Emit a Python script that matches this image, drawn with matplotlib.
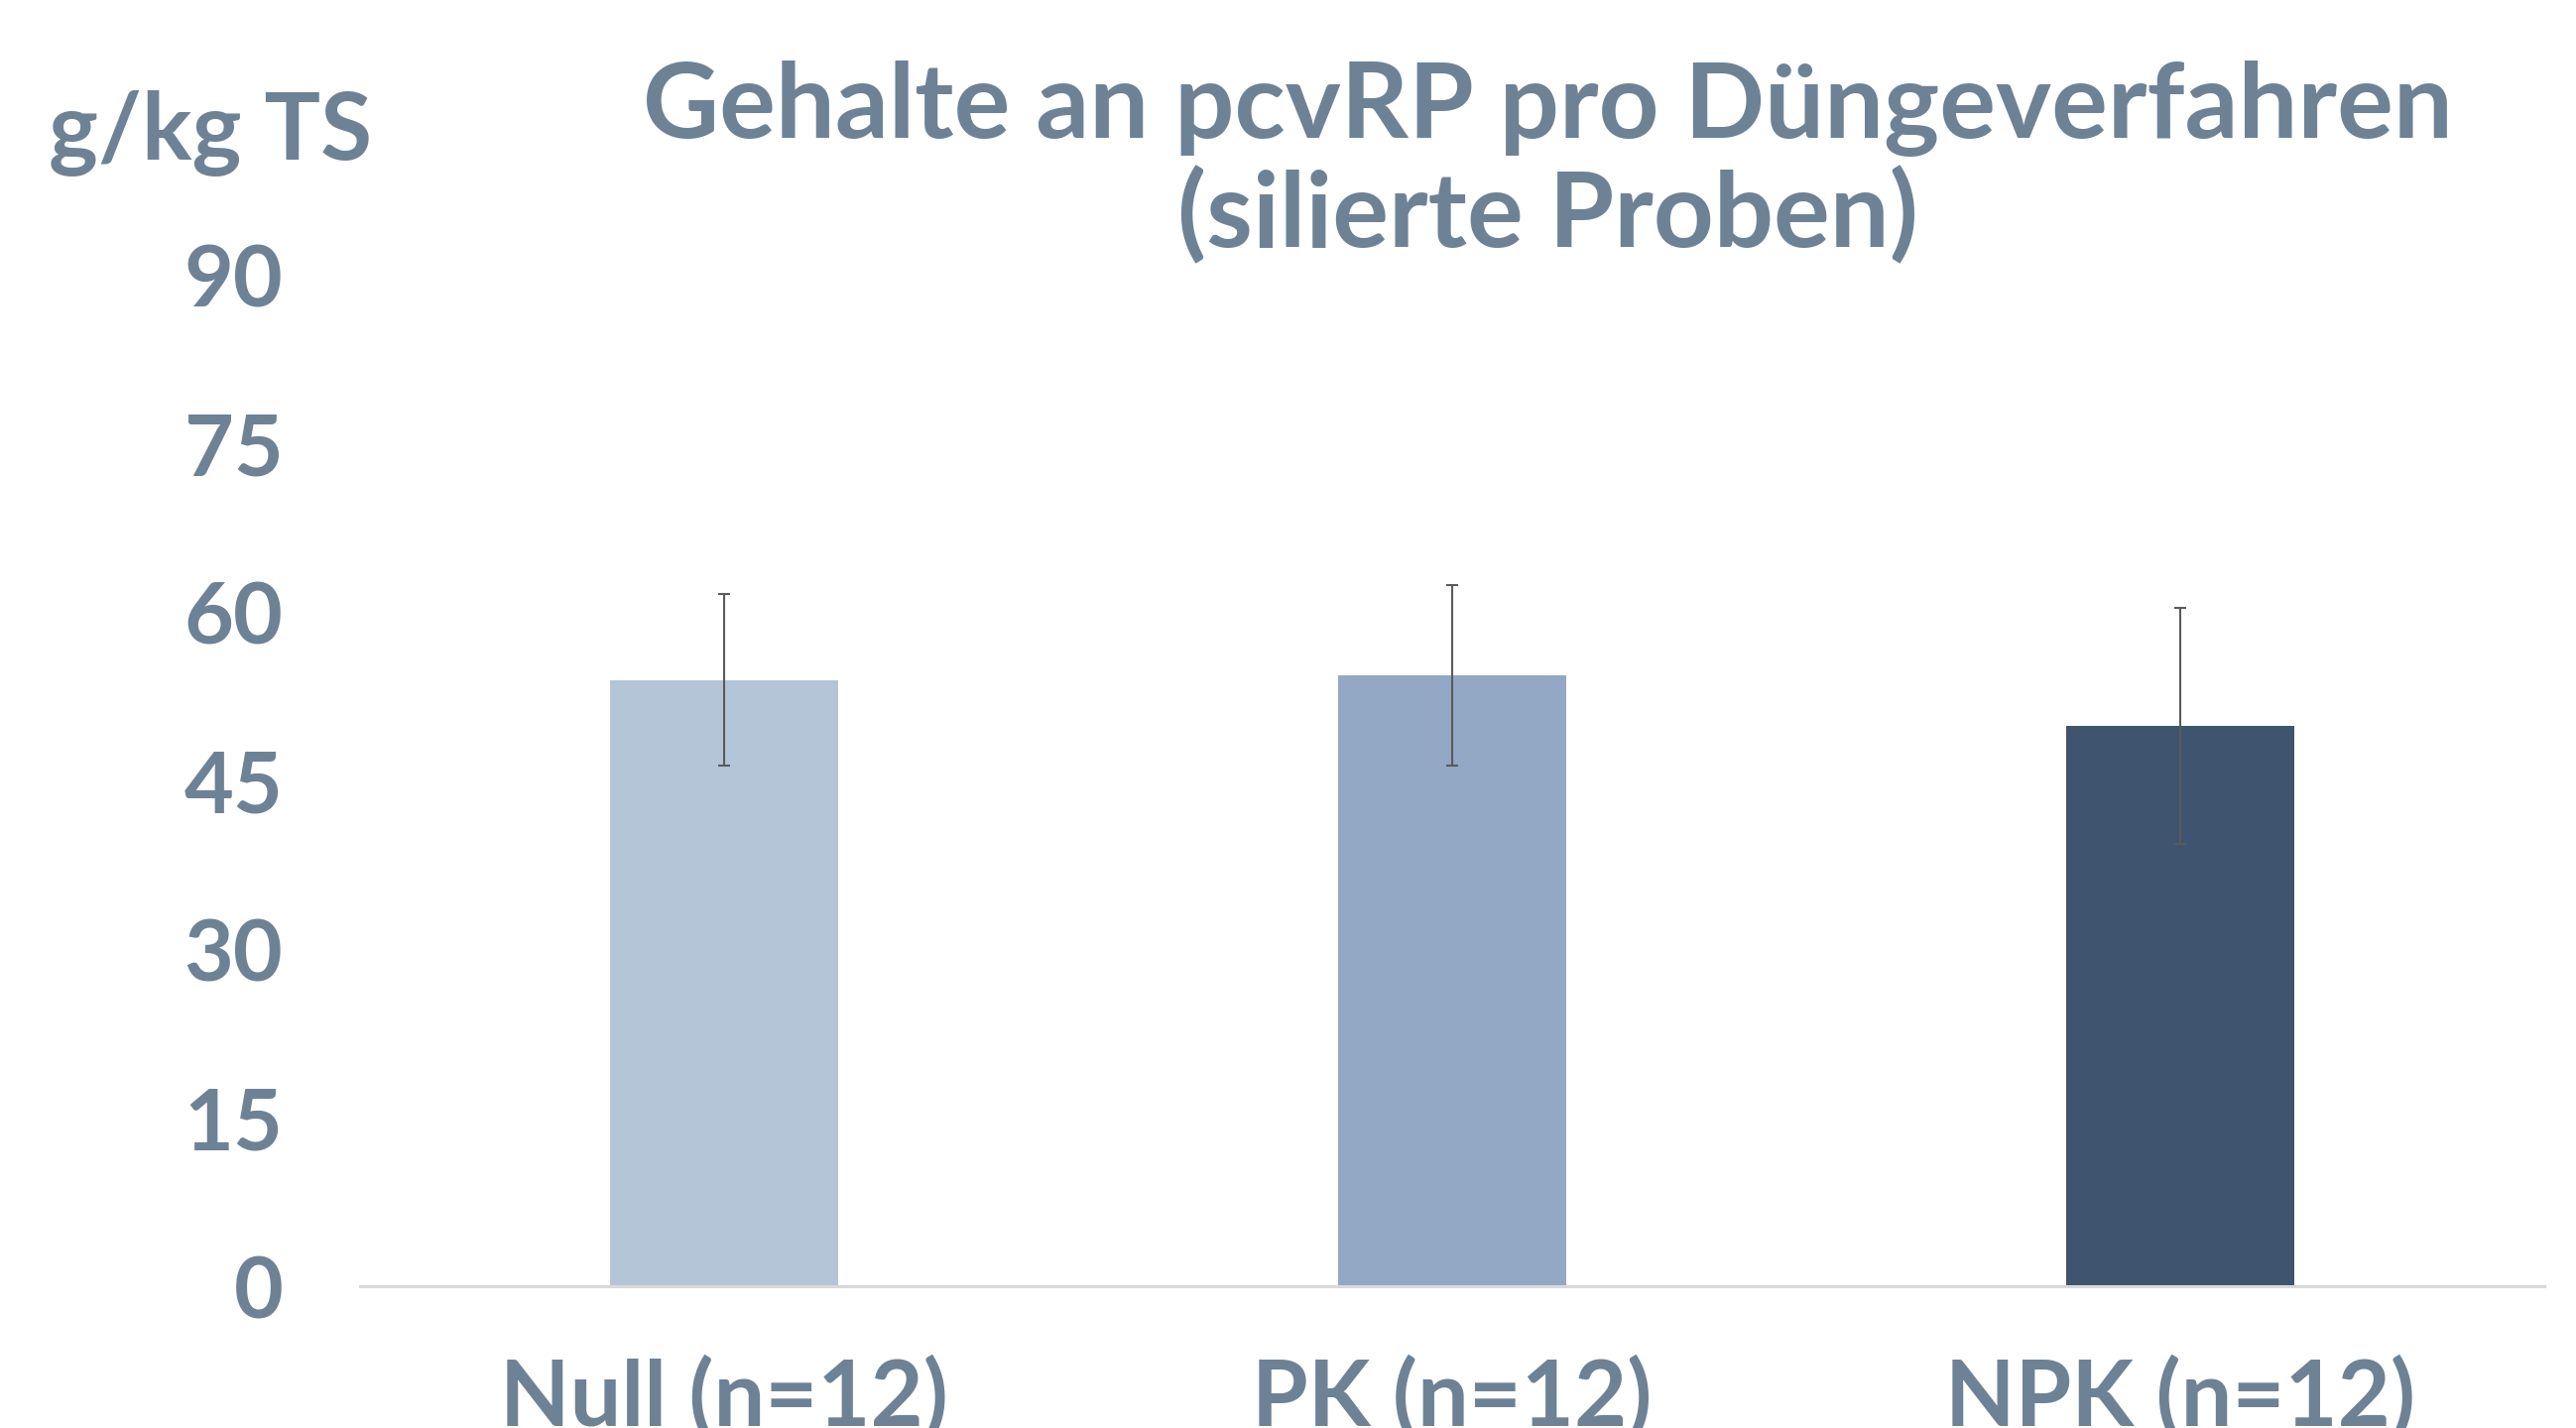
import matplotlib
matplotlib.use('Agg')
import matplotlib.pyplot as plt

categories = ['Null (n=12)', 'PK (n=12)', 'NPK (n=12)']
values = [54.0, 54.4, 49.9]
errors = [7.6, 8.0, 10.5]
yticks = [0, 15, 30, 45, 60, 75, 90]
colors = ['#B5C5D8', '#93A8C5', '#3E546F']
text_color = '#6E8296'

plt.rcParams['font.family'] = ['Lato', 'DejaVu Sans']
plt.rcParams['font.weight'] = 'bold'

fig = plt.figure(figsize=(25.97, 14.40), dpi=100)
ax = fig.add_axes([0.1398, 0.0993, 0.8479, 0.7077])

x = range(len(categories))
ax.bar(x, values, width=0.313, color=colors, zorder=2)
ax.errorbar(x, values, yerr=errors, fmt='none', ecolor='#5A5A5A',
            elinewidth=1.5, capsize=4.3, capthick=1.5, zorder=3)

ax.set_xlim(-0.5, 2.5)
ax.set_ylim(0, 90)
ax.set_yticks(yticks)
ax.set_yticklabels([str(v) for v in yticks])
ax.set_xticks(list(x))
ax.set_xticklabels(categories)

for side in ['top', 'right', 'left']:
    ax.spines[side].set_visible(False)
ax.spines['bottom'].set_color('#D9D9D9')
ax.spines['bottom'].set_linewidth(2.2)

ax.tick_params(axis='y', length=0, pad=56, labelsize=62, labelcolor=text_color)
ax.tick_params(axis='x', length=0, pad=50, labelsize=66, labelcolor=text_color)

fig.text(0.601, 0.9035, 'Gehalte an pcvRP pro Düngeverfahren',
         ha='center', va='baseline', fontsize=76.5, color=text_color,
         fontweight='bold')
fig.text(0.601, 0.827, '(silierte Proben)',
         ha='center', va='baseline', fontsize=76.5, color=text_color,
         fontweight='bold')
fig.text(0.019, 0.888, 'g/kg TS', ha='left', va='baseline', fontsize=68,
         color=text_color, fontweight='bold')

fig.savefig('out.png', dpi=100)
